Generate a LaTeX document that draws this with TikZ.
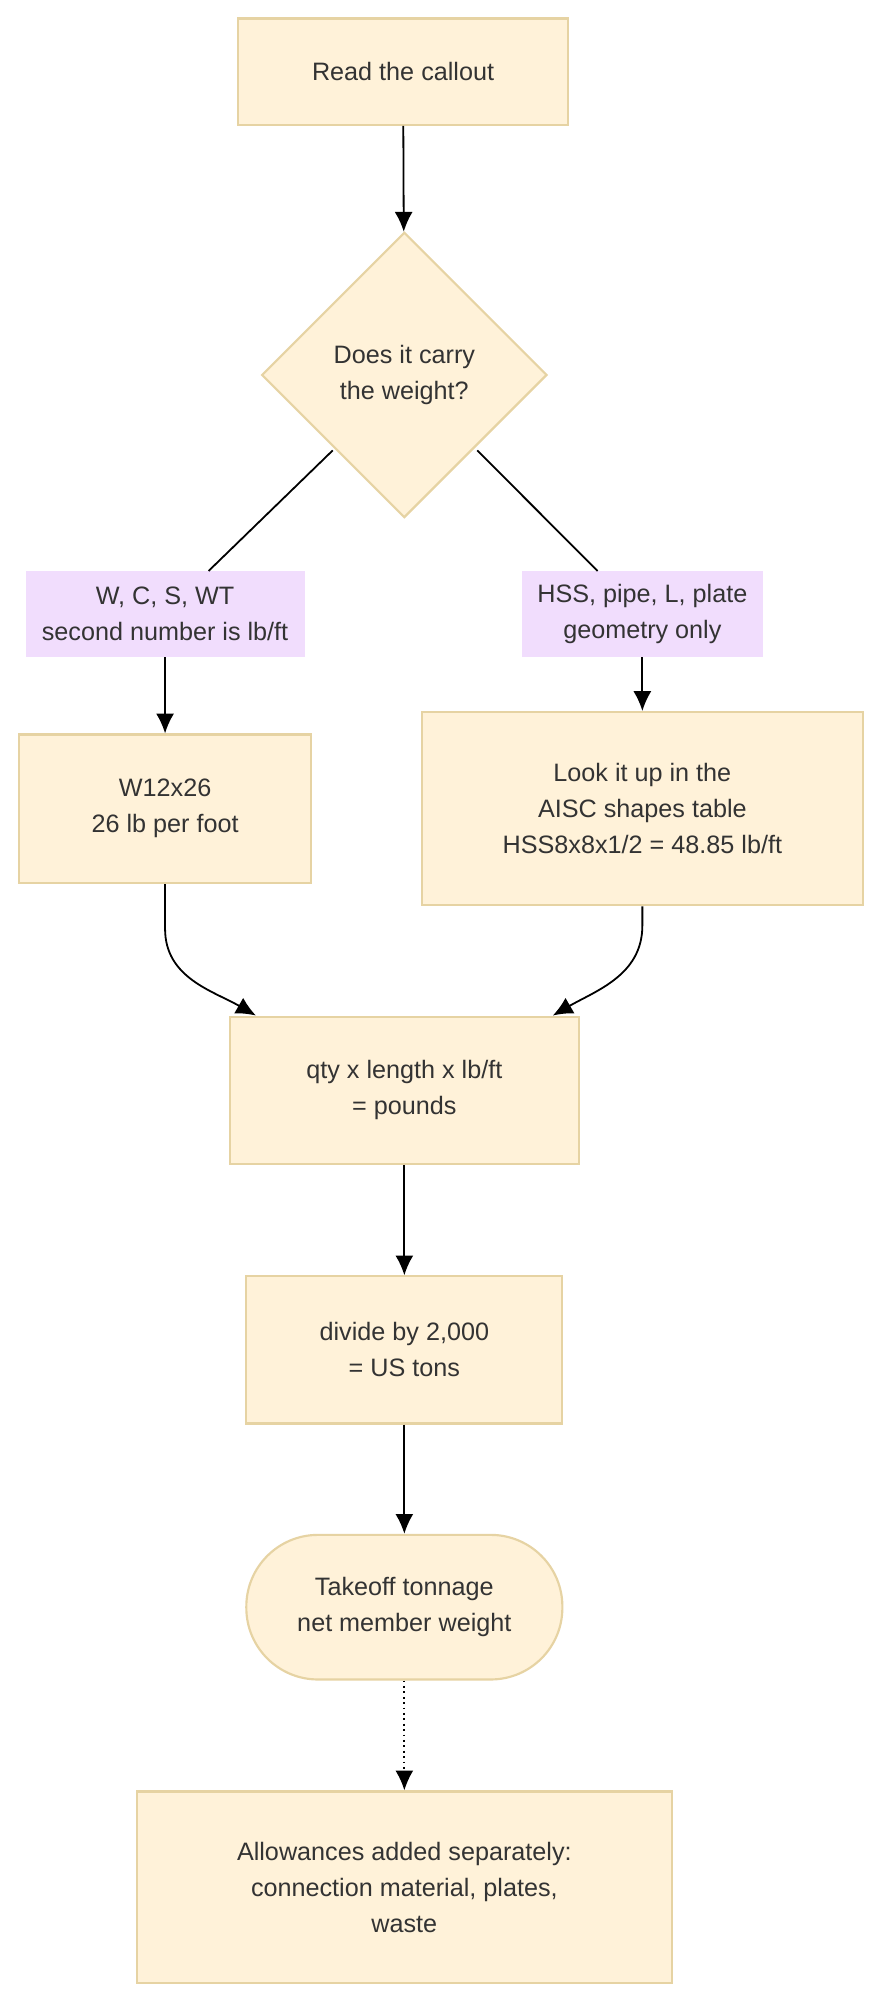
\documentclass[tikz,border=0pt]{standalone}
\usepackage{fontspec}
\setmainfont{Liberation Sans}
\usetikzlibrary{shapes.geometric,arrows.meta,patterns}
\definecolor{boxfill}{HTML}{FFF2D9}
\definecolor{boxline}{HTML}{E6D3A3}
\definecolor{lblfill}{HTML}{F1DDFD}
\definecolor{txt}{HTML}{333333}
\begin{document}
\begin{tikzpicture}[x=0.025cm,y=-0.025cm,
  box/.style={draw=boxline,fill=boxfill,line width=1.2pt,text=txt,align=center,font=\fontsize{14}{20}\selectfont,inner sep=0pt},
  lbl/.style={fill=lblfill,text=txt,align=center,font=\fontsize{14}{20}\selectfont,inner sep=0pt},
  arr/.style={-{Latex[length=11pt,width=10pt]},line width=1pt,black},
  ln/.style={line width=1pt,black}]
\useasboundingbox (0,0) rectangle (690,1563);
\node[box,minimum width=258*0.025cm,minimum height=83*0.025cm] (read) at (315,56) {Read the callout};
\node[box,diamond,minimum width=223*0.025cm,minimum height=223*0.025cm] (dec) at (316,293) {Does it carry\\the weight?};
\node[lbl,minimum width=218*0.025cm,minimum height=67*0.025cm] (l1) at (129,480) {W, C, S, WT\\second number is lb/ft};
\node[lbl,minimum width=188*0.025cm,minimum height=67*0.025cm] (l2) at (502,480) {HSS, pipe, L, plate\\geometry only};
\node[box,minimum width=228*0.025cm,minimum height=116*0.025cm] (w) at (129,632) {W12x26\\26 lb per foot};
\node[box,minimum width=345*0.025cm,minimum height=151*0.025cm] (look) at (502,632) {Look it up in the\\AISC shapes table\\HSS8x8x1/2 = 48.85 lb/ft};
\node[box,minimum width=273*0.025cm,minimum height=115*0.025cm] (qty) at (316,852) {qty x length x lb/ft\\= pounds};
\node[box,minimum width=247*0.025cm,minimum height=115*0.025cm] (div) at (316,1055) {divide by 2,000\\= US tons};
\node[box,rounded corners=56*0.025cm,minimum width=247*0.025cm,minimum height=113*0.025cm] (take) at (316,1256) {Takeoff tonnage\\net member weight};
\node[box,minimum width=418*0.025cm,minimum height=150*0.025cm] (allow) at (316,1475) {Allowances added separately:\\connection material, plates,\\waste};
\draw[arr] (read) -- (dec);
\draw[ln] (dec.south west) ++(0,0) coordinate (dsw);
\draw[ln] (260,352) -- (l1.north -| 163,0);
\draw[ln] (373,352) -- (l2.north -| 467,0);
\draw[arr] (l1) -- (w);
\draw[arr] (l2) -- (look);
\draw[arr] (w.south) -- ++(0,35) to[out=-90,in=150] (qty.north west -| 200,0);
\draw[arr] (look.south) -- ++(0,15) to[out=-90,in=30] (qty.north east -| 432,0);
\draw[arr] (qty) -- (div);
\draw[arr] (div) -- (take);
\draw[arr,dotted] (take) -- (allow);
\end{tikzpicture}
\end{document}
